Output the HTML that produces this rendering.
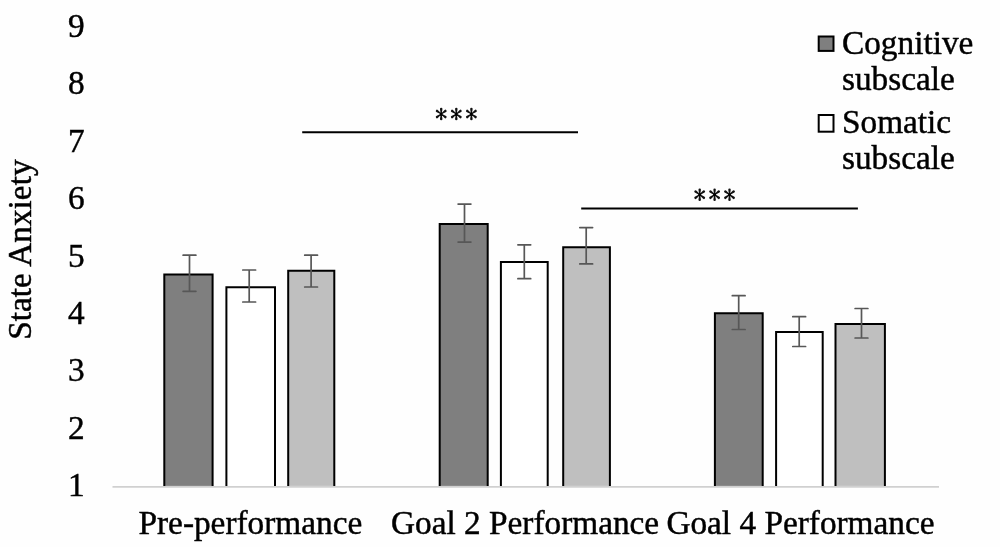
<!DOCTYPE html>
<html><head><meta charset="utf-8"><style>
html,body{margin:0;padding:0;background:#fefefe;width:1000px;height:547px;overflow:hidden}
svg{display:block;filter:blur(0.35px)}
.t{font-family:"Liberation Serif",serif;font-size:33.3px;fill:#000;stroke:#000;stroke-width:0.45px}
.ast{font-family:"Liberation Serif",serif;font-size:30px;fill:#000}
</style></head><body>
<svg width="1000" height="547" viewBox="0 0 1000 547">
<rect x="164.3" y="274.6" width="48.3" height="211.3" fill="#7f7f7f"/>
<path d="M164.3 485.9V274.6H212.6V485.9" fill="none" stroke="#000" stroke-width="2.0"/>
<rect x="226.4" y="287.2" width="48.6" height="198.7" fill="#ffffff"/>
<path d="M226.4 485.9V287.2H275.0V485.9" fill="none" stroke="#000" stroke-width="2.0"/>
<rect x="288.2" y="270.8" width="46.1" height="215.1" fill="#bfbfbf"/>
<path d="M288.2 485.9V270.8H334.3V485.9" fill="none" stroke="#000" stroke-width="2.0"/>
<rect x="439.7" y="223.9" width="48.0" height="262.0" fill="#7f7f7f"/>
<path d="M439.7 485.9V223.9H487.7V485.9" fill="none" stroke="#000" stroke-width="2.0"/>
<rect x="500.9" y="262.1" width="46.8" height="223.8" fill="#ffffff"/>
<path d="M500.9 485.9V262.1H547.7V485.9" fill="none" stroke="#000" stroke-width="2.0"/>
<rect x="563.2" y="247.3" width="46.7" height="238.6" fill="#bfbfbf"/>
<path d="M563.2 485.9V247.3H609.9V485.9" fill="none" stroke="#000" stroke-width="2.0"/>
<rect x="714.9" y="313.3" width="47.8" height="172.6" fill="#7f7f7f"/>
<path d="M714.9 485.9V313.3H762.7V485.9" fill="none" stroke="#000" stroke-width="2.0"/>
<rect x="776.1" y="331.9" width="46.6" height="154.0" fill="#ffffff"/>
<path d="M776.1 485.9V331.9H822.7V485.9" fill="none" stroke="#000" stroke-width="2.0"/>
<rect x="835.5" y="324.1" width="49.4" height="161.8" fill="#bfbfbf"/>
<path d="M835.5 485.9V324.1H884.9V485.9" fill="none" stroke="#000" stroke-width="2.0"/>
<line x1="112.5" y1="486.9" x2="939" y2="486.9" stroke="#d0d0d0" stroke-width="1.6"/>
<path d="M183.1 255.2H195.9M189.5 255.2V291.3M183.1 291.3H195.9" stroke="#575757" stroke-width="1.7" stroke-linecap="round" fill="none"/>
<path d="M242.8 270.0H255.6M249.2 270.0V302.0M242.8 302.0H255.6" stroke="#575757" stroke-width="1.7" stroke-linecap="round" fill="none"/>
<path d="M304.7 255.2H317.5M311.1 255.2V287.0M304.7 287.0H317.5" stroke="#575757" stroke-width="1.7" stroke-linecap="round" fill="none"/>
<path d="M458.1 204.1H470.9M464.5 204.1V242.1M458.1 242.1H470.9" stroke="#575757" stroke-width="1.7" stroke-linecap="round" fill="none"/>
<path d="M517.9 244.8H530.7M524.3 244.8V278.7M517.9 278.7H530.7" stroke="#575757" stroke-width="1.7" stroke-linecap="round" fill="none"/>
<path d="M579.8 227.6H592.6M586.2 227.6V263.9M579.8 263.9H592.6" stroke="#575757" stroke-width="1.7" stroke-linecap="round" fill="none"/>
<path d="M732.3 295.7H745.1M738.7 295.7V329.5M732.3 329.5H745.1" stroke="#575757" stroke-width="1.7" stroke-linecap="round" fill="none"/>
<path d="M792.8 316.7H805.6M799.2 316.7V346.5M792.8 346.5H805.6" stroke="#575757" stroke-width="1.7" stroke-linecap="round" fill="none"/>
<path d="M855.1 308.5H867.9M861.5 308.5V338.0M855.1 338.0H867.9" stroke="#575757" stroke-width="1.7" stroke-linecap="round" fill="none"/>
<line x1="302.2" y1="132.2" x2="578" y2="132.2" stroke="#000" stroke-width="2"/>
<line x1="581.2" y1="208.6" x2="857.9" y2="208.6" stroke="#000" stroke-width="2"/>
<path d="M441.65 114.00L442.45 109.00A1.25 1.25 0 0 0 439.95 109.00L440.75 114.00ZM440.75 114.00L439.95 119.00A1.25 1.25 0 0 0 442.45 119.00L441.65 114.00ZM441.47 113.64L437.79 109.88A1.25 1.25 0 0 0 436.29 111.88L440.93 114.36ZM441.47 114.36L446.11 111.88A1.25 1.25 0 0 0 444.61 109.88L440.93 113.64ZM440.93 113.64L436.29 116.12A1.25 1.25 0 0 0 437.79 118.12L441.47 114.36ZM440.93 114.36L444.61 118.12A1.25 1.25 0 0 0 446.11 116.12L441.47 113.64Z" fill="#111"/><circle cx="441.2" cy="114.0" r="1.5" fill="#000"/>
<path d="M456.75 114.00L457.55 109.00A1.25 1.25 0 0 0 455.05 109.00L455.85 114.00ZM455.85 114.00L455.05 119.00A1.25 1.25 0 0 0 457.55 119.00L456.75 114.00ZM456.57 113.64L452.89 109.88A1.25 1.25 0 0 0 451.39 111.88L456.03 114.36ZM456.57 114.36L461.21 111.88A1.25 1.25 0 0 0 459.71 109.88L456.03 113.64ZM456.03 113.64L451.39 116.12A1.25 1.25 0 0 0 452.89 118.12L456.57 114.36ZM456.03 114.36L459.71 118.12A1.25 1.25 0 0 0 461.21 116.12L456.57 113.64Z" fill="#111"/><circle cx="456.3" cy="114.0" r="1.5" fill="#000"/>
<path d="M471.85 114.00L472.65 109.00A1.25 1.25 0 0 0 470.15 109.00L470.95 114.00ZM470.95 114.00L470.15 119.00A1.25 1.25 0 0 0 472.65 119.00L471.85 114.00ZM471.67 113.64L467.99 109.88A1.25 1.25 0 0 0 466.49 111.88L471.13 114.36ZM471.67 114.36L476.31 111.88A1.25 1.25 0 0 0 474.81 109.88L471.13 113.64ZM471.13 113.64L466.49 116.12A1.25 1.25 0 0 0 467.99 118.12L471.67 114.36ZM471.13 114.36L474.81 118.12A1.25 1.25 0 0 0 476.31 116.12L471.67 113.64Z" fill="#111"/><circle cx="471.4" cy="114.0" r="1.5" fill="#000"/>
<path d="M700.15 194.70L700.95 189.70A1.25 1.25 0 0 0 698.45 189.70L699.25 194.70ZM699.25 194.70L698.45 199.70A1.25 1.25 0 0 0 700.95 199.70L700.15 194.70ZM699.97 194.34L696.29 190.58A1.25 1.25 0 0 0 694.79 192.58L699.43 195.06ZM699.97 195.06L704.61 192.58A1.25 1.25 0 0 0 703.11 190.58L699.43 194.34ZM699.43 194.34L694.79 196.82A1.25 1.25 0 0 0 696.29 198.82L699.97 195.06ZM699.43 195.06L703.11 198.82A1.25 1.25 0 0 0 704.61 196.82L699.97 194.34Z" fill="#111"/><circle cx="699.7" cy="194.7" r="1.5" fill="#000"/>
<path d="M715.05 194.70L715.85 189.70A1.25 1.25 0 0 0 713.35 189.70L714.15 194.70ZM714.15 194.70L713.35 199.70A1.25 1.25 0 0 0 715.85 199.70L715.05 194.70ZM714.87 194.34L711.19 190.58A1.25 1.25 0 0 0 709.69 192.58L714.33 195.06ZM714.87 195.06L719.51 192.58A1.25 1.25 0 0 0 718.01 190.58L714.33 194.34ZM714.33 194.34L709.69 196.82A1.25 1.25 0 0 0 711.19 198.82L714.87 195.06ZM714.33 195.06L718.01 198.82A1.25 1.25 0 0 0 719.51 196.82L714.87 194.34Z" fill="#111"/><circle cx="714.6" cy="194.7" r="1.5" fill="#000"/>
<path d="M729.95 194.70L730.75 189.70A1.25 1.25 0 0 0 728.25 189.70L729.05 194.70ZM729.05 194.70L728.25 199.70A1.25 1.25 0 0 0 730.75 199.70L729.95 194.70ZM729.77 194.34L726.09 190.58A1.25 1.25 0 0 0 724.59 192.58L729.23 195.06ZM729.77 195.06L734.41 192.58A1.25 1.25 0 0 0 732.91 190.58L729.23 194.34ZM729.23 194.34L724.59 196.82A1.25 1.25 0 0 0 726.09 198.82L729.77 195.06ZM729.23 195.06L732.91 198.82A1.25 1.25 0 0 0 734.41 196.82L729.77 194.34Z" fill="#111"/><circle cx="729.5" cy="194.7" r="1.5" fill="#000"/>
<text x="84.7" y="496.1" class="t" text-anchor="end">1</text>
<text x="84.7" y="438.7" class="t" text-anchor="end">2</text>
<text x="84.7" y="381.3" class="t" text-anchor="end">3</text>
<text x="84.7" y="323.9" class="t" text-anchor="end">4</text>
<text x="84.7" y="266.5" class="t" text-anchor="end">5</text>
<text x="84.7" y="209.1" class="t" text-anchor="end">6</text>
<text x="84.7" y="151.7" class="t" text-anchor="end">7</text>
<text x="84.7" y="94.3" class="t" text-anchor="end">8</text>
<text x="84.7" y="36.9" class="t" text-anchor="end">9</text>
<text x="138.5" y="533.8" class="t">Pre-performance</text>
<text x="391" y="533.8" class="t">Goal 2 Performance</text>
<text x="666.4" y="533.8" class="t">Goal 4 Performance</text>
<text transform="translate(30.6,339.8) rotate(-90)" class="t">State Anxiety</text>
<rect x="818.7" y="36.5" width="14.8" height="14.4" fill="#7f7f7f" stroke="#000" stroke-width="2"/>
<rect x="818.7" y="115" width="14.8" height="16.7" fill="#fff" stroke="#000" stroke-width="2"/>
<text x="842" y="54" class="t">Cognitive</text>
<text x="842" y="89.8" class="t">subscale</text>
<text x="842" y="133.4" class="t">Somatic</text>
<text x="842" y="168.6" class="t">subscale</text>
</svg>
</body></html>
